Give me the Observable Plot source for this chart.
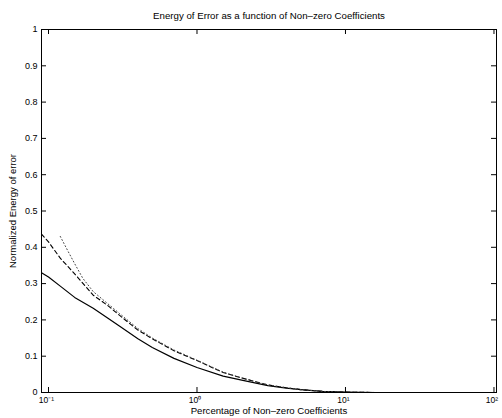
<!DOCTYPE html>
<html>
<head>
<meta charset="utf-8">
<script src="https://cdn.jsdelivr.net/npm/d3@7"></script>
<script src="https://cdn.jsdelivr.net/npm/@observablehq/plot@0.6"></script>
<style>
  html, body { margin: 0; padding: 0; background: #fff; }
</style>
</head>
<body>
<div id="chart"></div>
<script>
const title = "Energy of Error as a function of Non\u2013zero Coefficients";
const xLabel = "Percentage of Non\u2013zero Coefficients";
const yLabel = "Normalized Energy of error";

const xTicks = [0.1, 1, 10, 100];
const xTickLabels = ["10\u207B\u00B9", "10\u2070", "10\u00B9", "10\u00B2"];
const yTicks = [0, 0.1, 0.2, 0.3, 0.4, 0.5, 0.6, 0.7, 0.8, 0.9, 1];
const yTickLabels = ["0", "0.1", "0.2", "0.3", "0.4", "0.5", "0.6", "0.7", "0.8", "0.9", "1"];

const pct = [0.0897, 0.1, 0.12, 0.15, 0.2, 0.25, 0.3, 0.4, 0.5, 0.7, 1.0, 1.5, 2, 3, 4, 5, 7, 10, 16];
const solid = [0.33, 0.318, 0.293, 0.262, 0.232, 0.205, 0.183, 0.148, 0.124, 0.094, 0.069, 0.045, 0.034, 0.019, 0.012, 0.008, 0.003, 0.001, 0];
const dashed = [0.436, 0.415, 0.37, 0.327, 0.268, 0.24, 0.213, 0.172, 0.148, 0.115, 0.088, 0.055, 0.04, 0.021, 0.013, 0.008, 0.003, 0.001, 0];
const dottedPct = [0.12, 0.135, 0.15, 0.17, 0.2, 0.25, 0.3, 0.4, 0.5, 0.7, 1.0, 1.5, 2, 3, 4, 5, 7, 10, 16];
const dotted = [0.43, 0.39, 0.355, 0.315, 0.278, 0.245, 0.218, 0.176, 0.15, 0.117, 0.089, 0.056, 0.04, 0.021, 0.013, 0.008, 0.003, 0.001, 0];

const W = 502, H = 418;
const mL = 41, mR = 6, mT = 29, mB = 26;
const fw = W - mL - mR, fh = H - mT - mB;

const solidData = pct.map((x, i) => ({x, y: solid[i]}));
const dashedData = pct.map((x, i) => ({x, y: dashed[i]}));
const dottedData = dottedPct.map((x, i) => ({x, y: dotted[i]}));

const chart = Plot.plot({
  width: W, height: H,
  marginLeft: mL, marginRight: mR, marginTop: mT, marginBottom: mB,
  style: {fontFamily: "Liberation Sans, Arial, sans-serif", fontSize: "9px", background: "#fff", color: "#000"},
  x: {type: "log", domain: [0.0897, 104], axis: null},
  y: {domain: [0, 1], axis: null},
  marks: [
    Plot.line(solidData, {x: "x", y: "y", stroke: "black", strokeWidth: 1.2, clip: true}),
    Plot.line(dashedData, {x: "x", y: "y", stroke: "black", strokeWidth: 1.1, strokeDasharray: "4,3", clip: true}),
    Plot.line(dottedData, {x: "x", y: "y", stroke: "#444", strokeWidth: 1, strokeDasharray: "1,2.5", clip: true}),
    Plot.frame({stroke: "black", strokeWidth: 1}),
    Plot.tickY(yTicks, {y: d => d, stroke: "black", insetRight: fw - 5}),
    Plot.tickY(yTicks, {y: d => d, stroke: "black", insetLeft: fw - 5}),
    Plot.tickX(xTicks, {x: d => d, stroke: "black", insetTop: fh - 5}),
    Plot.tickX(xTicks, {x: d => d, stroke: "black", insetBottom: fh - 5}),
    Plot.text(yTicks, {y: d => d, text: (d, i) => yTickLabels[i], frameAnchor: "left", dx: -4, textAnchor: "end", fill: "black", fontSize: 9}),
    Plot.text(xTicks, {x: d => d, text: (d, i) => xTickLabels[i], frameAnchor: "bottom", dy: 10, dx: -2, fill: "black", fontSize: 8.5}),
    Plot.text([xLabel], {text: d => d, frameAnchor: "bottom", dy: 21.5, fill: "black", fontSize: 9.6}),
    Plot.text([yLabel], {text: d => d, frameAnchor: "left", rotate: -90, dx: -29, textAnchor: "middle", fill: "black", fontSize: 9.5}),
    Plot.text([title], {text: d => d, frameAnchor: "top", dy: -17, fill: "black", fontSize: 9.7})
  ]
});
document.getElementById("chart").appendChild(chart);
</script>
</body>
</html>
